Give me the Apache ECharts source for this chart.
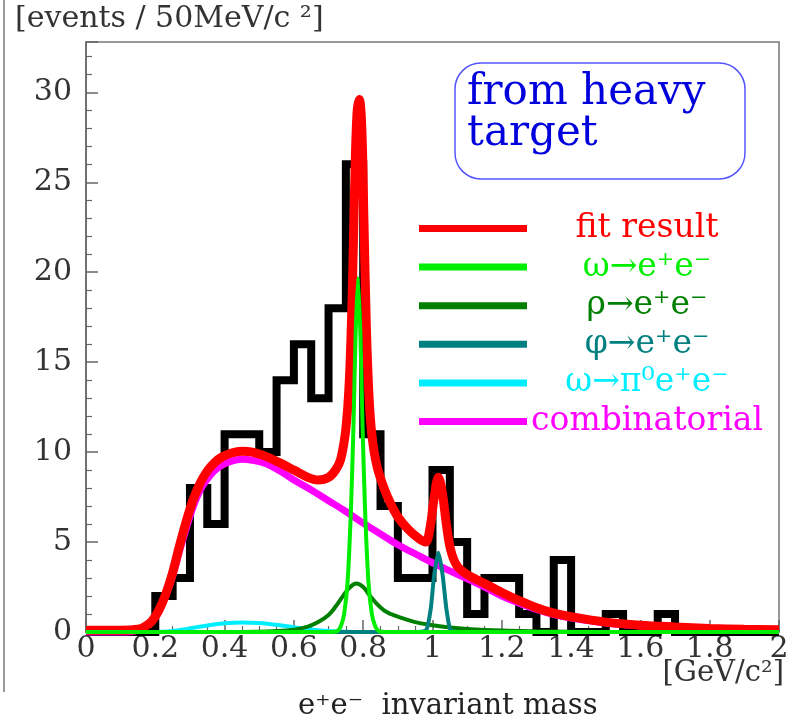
<!DOCTYPE html>
<html>
<head>
<meta charset="utf-8">
<script src="https://cdn.jsdelivr.net/npm/echarts@6/dist/echarts.min.js"></script>
<style>
  html, body { margin: 0; padding: 0; background: #fff; }
  #chart { width: 794px; height: 728px; }
</style>
</head>
<body>
<div id="chart"></div>
<script>
  // events per 50 MeV/c^2 bin, bins start at 0.00 GeV
  const binWidth = 0.05;
  const histCounts = [0, 0, 0, 0, 2, 3, 8, 6, 11, 11, 10, 14, 16, 13, 18, 26, 11, 7, 3, 3,
                      9, 5, 1, 3, 3, 1, 0, 4, 0, 0, 1, 0, 0, 1, 0, 0, 0, 0, 0, 0];

  const fitCurve = [
    [0, 0.1], [0.1, 0.1], [0.15, 0.15], [0.17, 0.3], [0.19, 0.6], [0.21, 1.2], [0.23, 2.1],
    [0.25, 3.3], [0.27, 4.8], [0.29, 6.2], [0.31, 7.4], [0.33, 8.3], [0.35, 8.95], [0.37, 9.4],
    [0.39, 9.7], [0.42, 9.95], [0.45, 10.05], [0.48, 10.0], [0.52, 9.75], [0.56, 9.4], [0.6, 9.0],
    [0.64, 8.6], [0.67, 8.45], [0.7, 8.6], [0.72, 9.0], [0.735, 9.6], [0.75, 11.3], [0.76, 14],
    [0.768, 18.5], [0.775, 24.5], [0.782, 28.8], [0.789, 29.6], [0.796, 28.0], [0.802, 23],
    [0.809, 17], [0.817, 13], [0.826, 10.8], [0.84, 9.2], [0.86, 8.0], [0.88, 7.1], [0.9, 6.4],
    [0.93, 5.7], [0.96, 5.2], [0.98, 5.0], [0.993, 5.8], [1.005, 7.5], [1.017, 8.6], [1.028, 7.8],
    [1.04, 6.0], [1.052, 4.6], [1.07, 3.7], [1.1, 3.2], [1.15, 2.7], [1.2, 2.2], [1.25, 1.75],
    [1.3, 1.35], [1.35, 1.05], [1.4, 0.85], [1.5, 0.55], [1.6, 0.38], [1.7, 0.28], [1.8, 0.2],
    [1.9, 0.15], [2.0, 0.12]
  ];
  const combCurve = [
    [0, 0], [0.12, 0], [0.15, 0.1], [0.17, 0.3], [0.19, 0.6], [0.21, 1.1], [0.23, 2.0], [0.25, 3.1],
    [0.27, 4.5], [0.29, 5.8], [0.31, 7.0], [0.33, 7.9], [0.35, 8.5], [0.37, 8.95], [0.39, 9.25],
    [0.42, 9.5], [0.45, 9.6], [0.48, 9.55], [0.52, 9.35], [0.56, 8.95], [0.6, 8.45], [0.65, 7.9],
    [0.7, 7.3], [0.75, 6.7], [0.8, 6.05], [0.85, 5.45], [0.9, 4.85], [0.95, 4.35], [1.0, 3.85],
    [1.05, 3.4], [1.1, 2.95], [1.15, 2.5], [1.2, 2.0], [1.25, 1.6], [1.3, 1.25], [1.35, 0.97],
    [1.4, 0.78], [1.5, 0.5], [1.6, 0.34], [1.7, 0.24], [1.8, 0.17], [1.9, 0.12], [2.0, 0.09]
  ];
  const omegaCurve = [
    [0, 0], [0.7, 0], [0.725, 0.05], [0.735, 0.3], [0.745, 1.0], [0.755, 2.8], [0.765, 7.0],
    [0.772, 11.5], [0.778, 16.5], [0.785, 19.7], [0.792, 16.5], [0.798, 11.5], [0.805, 7.0],
    [0.815, 2.8], [0.825, 1.0], [0.835, 0.3], [0.845, 0.05], [0.87, 0], [2, 0]
  ];
  const rhoCurve = [
    [0, 0], [0.45, 0], [0.55, 0.05], [0.6, 0.13], [0.64, 0.3], [0.67, 0.55], [0.7, 0.95],
    [0.72, 1.4], [0.74, 1.95], [0.76, 2.45], [0.78, 2.7], [0.8, 2.5], [0.82, 2.0], [0.84, 1.55],
    [0.86, 1.2], [0.88, 1.0], [0.9, 0.85], [0.95, 0.55], [1.0, 0.38], [1.05, 0.25], [1.1, 0.17],
    [1.2, 0.08], [1.3, 0.04], [1.4, 0.02], [1.6, 0], [2, 0]
  ];
  const phiCurve = [
    [0, 0], [0.96, 0], [0.982, 0.1], [0.995, 1.3], [1.005, 3.2], [1.017, 4.4], [1.029, 3.2],
    [1.04, 1.3], [1.052, 0.1], [1.075, 0], [2, 0]
  ];
  const dalitzCurve = [
    [0, 0], [0.2, 0], [0.25, 0.06], [0.3, 0.2], [0.35, 0.36], [0.4, 0.48], [0.45, 0.53],
    [0.5, 0.5], [0.55, 0.4], [0.6, 0.27], [0.65, 0.14], [0.7, 0.05], [0.75, 0.01], [0.8, 0], [2, 0]
  ];

  const legendNames = ['fit result', 'ω→e⁺e⁻', 'ρ→e⁺e⁻', 'φ→e⁺e⁻', 'ω→π⁰e⁺e⁻', 'combinatorial'];
  const legendColors = ['#ff0000', '#00ee00', '#008000', '#008080', '#00eeff', '#ff00ff'];

  const serif = '"DejaVu Serif", "Liberation Serif", serif';

  const histData = histCounts.map(function (c, i) { return [i * binWidth, c]; });
  histData.push([histCounts.length * binWidth, 0]);

  function curve(name, data, color, width, z, smooth) {
    return {
      name: name,
      type: 'line',
      data: data,
      smooth: smooth,
      symbol: 'none',
      clip: false,
      z: z,
      lineStyle: { color: color, width: width },
      itemStyle: { color: color }
    };
  }

  const chart = echarts.init(document.getElementById('chart'));

  chart.setOption({
    animation: false,
    backgroundColor: '#fff',
    grid: {
      left: 86, right: 15, top: 42, bottom: 96,
      show: true, borderColor: '#777', borderWidth: 1.5, backgroundColor: 'transparent'
    },
    xAxis: {
      type: 'value',
      min: 0, max: 2, interval: 0.2,
      axisLine: { onZero: false, lineStyle: { color: '#666', width: 1.5 } },
      axisTick: { inside: true, length: 12, lineStyle: { color: '#666', width: 1.5 } },
      minorTick: { show: true, splitNumber: 4, length: 6, lineStyle: { color: '#666', width: 1.2 } },
      splitLine: { show: false },
      axisLabel: { color: '#333', fontFamily: serif, fontSize: 30, margin: 2 }
    },
    yAxis: {
      type: 'value',
      min: 0, max: 32.8, interval: 5,
      axisLine: { show: true, lineStyle: { color: '#666', width: 1.5 } },
      axisTick: { inside: true, length: 12, lineStyle: { color: '#666', width: 1.5 } },
      minorTick: { show: true, splitNumber: 5, length: 6, lineStyle: { color: '#666', width: 1.2 } },
      splitLine: { show: false },
      axisLabel: { color: '#333', fontFamily: serif, fontSize: 30, margin: 14, showMaxLabel: false }
    },
    legend: {
      orient: 'vertical',
      left: 414, top: 207,
      itemWidth: 108, itemHeight: 7, itemGap: 5.6,
      icon: 'rect',
      selectedMode: false,
      formatter: function (name) { return '{t|' + name + '}'; },
      textStyle: {
        fontFamily: serif, fontSize: 33,
        rich: { t: { width: 230, align: 'center', fontFamily: serif, fontSize: 33, lineHeight: 36 } }
      },
      data: legendNames.map(function (n, i) {
        return { name: n, textStyle: { color: legendColors[i] } };
      })
    },
    series: [
      {
        name: 'data',
        type: 'line',
        step: 'end',
        data: histData,
        symbol: 'none',
        clip: false,
        z: 1,
        lineStyle: { color: '#000', width: 8, join: 'miter' },
        itemStyle: { color: '#000' }
      },
      curve(legendNames[5], combCurve, legendColors[5], 7, 2, 0.4),
      curve(legendNames[0], fitCurve, legendColors[0], 9, 3, 0.35),
      curve(legendNames[4], dalitzCurve, legendColors[4], 4, 4, 0.4),
      curve(legendNames[2], rhoCurve, legendColors[2], 4, 5, 0.4),
      curve(legendNames[3], phiCurve, legendColors[3], 4, 6, 0.2),
      curve(legendNames[1], omegaCurve, legendColors[1], 4, 7, 0.2)
    ],
    graphic: [
      { type: 'line', shape: { x1: 4, y1: 0, x2: 4, y2: 692 }, style: { stroke: '#999', lineWidth: 2 } },
      {
        type: 'text', left: 15, top: 4,
        style: { text: '[events / 50MeV/c ²]', font: '30px ' + serif, fill: '#333' }
      },
      {
        type: 'text', right: 10, top: 659,
        style: { text: '[GeV/c²]', font: '29px ' + serif, fill: '#333' }
      },
      {
        type: 'text', left: 298, top: 692,
        style: { text: 'e⁺e⁻  invariant mass', font: '29px ' + serif, fill: '#222' }
      },
      {
        type: 'rect', shape: { x: 455, y: 63, width: 290, height: 116, r: 26 },
        style: { fill: 'transparent', stroke: '#5555ff', lineWidth: 1.5 }
      },
      {
        type: 'text', left: 467, top: 72,
        style: { text: 'from heavy\ntarget', font: '42px ' + serif, fill: '#0000dd', lineHeight: 41 }
      }
    ]
  });
</script>
</body>
</html>
